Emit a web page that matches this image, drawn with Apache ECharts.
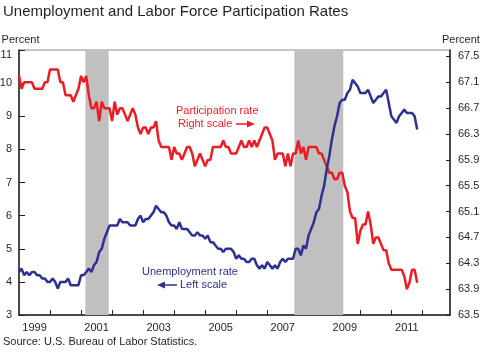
<!DOCTYPE html>
<html><head><meta charset="utf-8">
<script src="https://cdn.jsdelivr.net/npm/echarts@6/dist/echarts.min.js"></script>
<style>html,body{margin:0;padding:0;background:#fff}#c{width:480px;height:362px}</style>
</head><body><div id="c"></div>
<script>
// Monthly data, Jan 1999 - Nov 2011
const startYear = 1999;
const unemployment = [
  4.3,4.4,4.2,4.3,4.2,4.3,4.3,4.2,4.2,4.1,4.1,4.0,
  4.0,4.1,4.0,3.8,4.0,4.0,4.0,4.1,3.9,3.9,3.9,3.9,
  4.2,4.2,4.3,4.4,4.3,4.5,4.6,4.9,5.0,5.3,5.5,5.7,
  5.7,5.7,5.7,5.9,5.8,5.8,5.8,5.7,5.7,5.7,5.9,6.0,
  5.8,5.9,5.9,6.0,6.1,6.3,6.2,6.1,6.1,6.0,5.8,5.7,
  5.7,5.6,5.8,5.6,5.6,5.6,5.5,5.4,5.4,5.5,5.4,5.4,
  5.3,5.4,5.2,5.2,5.1,5.0,5.0,4.9,5.0,5.0,5.0,4.9,
  4.7,4.8,4.7,4.7,4.6,4.6,4.7,4.7,4.5,4.4,4.5,4.4,
  4.6,4.5,4.4,4.5,4.4,4.6,4.7,4.6,4.7,4.7,4.7,5.0,
  5.0,4.8,5.1,5.0,5.4,5.6,5.8,6.1,6.2,6.6,6.9,7.4,
  7.8,8.3,8.7,9.0,9.4,9.5,9.5,9.7,9.8,10.1,10.0,9.9,
  9.7,9.7,9.7,9.8,9.6,9.4,9.5,9.6,9.6,9.7,9.8,9.4,
  9.0,8.9,8.8,9.0,9.1,9.2,9.1,9.1,9.1,9.0,8.6
];
const participation = [
  67.2,67.0,67.1,67.1,67.1,67.1,67.0,67.0,67.0,67.0,67.1,67.1,
  67.3,67.3,67.3,67.3,67.1,67.1,66.9,66.9,66.9,66.8,66.9,67.0,
  67.2,67.1,67.2,66.9,66.7,66.7,66.8,66.5,66.8,66.7,66.7,66.7,
  66.5,66.8,66.6,66.7,66.7,66.6,66.5,66.6,66.7,66.6,66.4,66.3,
  66.4,66.4,66.3,66.4,66.4,66.5,66.2,66.1,66.1,66.1,66.1,65.9,
  66.1,66.0,66.0,65.9,66.0,66.1,66.1,66.0,65.8,65.9,66.0,65.9,
  65.8,65.9,65.9,66.1,66.1,66.1,66.1,66.2,66.1,66.1,66.0,66.0,
  66.0,66.1,66.2,66.1,66.1,66.2,66.1,66.2,66.1,66.2,66.3,66.4,
  66.4,66.3,66.2,65.9,66.0,66.0,66.0,65.8,66.0,65.8,66.0,66.0,
  66.2,66.0,66.1,65.9,66.1,66.1,66.1,66.1,66.0,66.0,65.9,65.8,
  65.7,65.7,65.6,65.6,65.7,65.7,65.5,65.4,65.1,65.0,65.0,64.6,
  64.8,64.9,64.9,65.1,64.9,64.6,64.7,64.7,64.6,64.5,64.5,64.3,
  64.2,64.2,64.2,64.2,64.2,64.1,63.9,64.0,64.2,64.2,64.0
];
const recessions = [[2001.14, 2001.89], [2007.875, 2009.45]];
const leftTicks = [3,4,5,6,7,8,9,10,11];
const rightTicks = [63.5,63.9,64.3,64.7,65.1,65.5,65.9,66.3,66.7,67.1,67.5];
const yearTicks = [2000,2001,2002,2003,2004,2005,2006,2007,2008,2009,2010,2011,2012];
const yearLabels = [1999,2001,2003,2005,2007,2009,2011];

const months = unemployment.map((_, i) => startYear + i / 12);
const FONT = '"Liberation Sans", Arial, sans-serif';
const TXT = '#231F20';
const RED = '#EC1C24';
const BLUE = '#2E3192';

const chart = echarts.init(document.getElementById('c'), null, {renderer: 'canvas'});
chart.setOption({
  animation: false,
  backgroundColor: '#fff',
  textStyle: {fontFamily: FONT},
  title: [
    {text: 'Unemployment and Labor Force Participation Rates', left: 3, top: 4, padding: 0,
     textStyle: {fontSize: 15, fontWeight: 'normal', color: TXT, fontFamily: FONT}},
    {text: 'Percent', left: 442, top: 34, padding: 0,
     textStyle: {fontSize: 11, fontWeight: 'normal', color: TXT, fontFamily: FONT}},
    {text: 'Source: U.S. Bureau of Labor Statistics.', left: 3, top: 336, padding: 0,
     textStyle: {fontSize: 11, fontWeight: 'normal', color: TXT, fontFamily: FONT}}
  ],
  grid: {left: 19, right: 30, top: 50, bottom: 47, show: true, borderColor: '#888', borderWidth: 1,
         containLabel: false, outerBoundsMode: 'none'},
  xAxis: {
    type: 'value', min: 1999, max: 2012.89,
    axisLine: {show: true, lineStyle: {color: TXT, width: 1.5}},
    axisTick: {show: true, inside: true, length: 5, customValues: yearTicks, lineStyle: {color: TXT}},
    axisLabel: {customValues: yearLabels.map(y => y + 0.5), formatter: v => String(Math.floor(v)),
                fontSize: 11, color: TXT, margin: 7, fontFamily: FONT},
    splitLine: {show: false}
  },
  yAxis: [
    {type: 'value', min: 3, max: 11, interval: 1, position: 'left',
     name: 'Percent', nameLocation: 'end', nameGap: 5,
     nameTextStyle: {fontSize: 11, color: TXT, align: 'center', fontFamily: FONT, padding: [0, 0, 0, 3]},
     axisLine: {show: true, lineStyle: {color: TXT, width: 1.5}},
     axisTick: {show: true, inside: true, length: 6, lineStyle: {color: TXT}},
     axisLabel: {fontSize: 11, color: TXT, margin: 7, fontFamily: FONT,
                 formatter: v => v === 11 ? '{top|11}' : String(v),
                 rich: {top: {fontSize: 11, color: TXT, padding: [10, 0, 0, 0], fontFamily: FONT}}},
     splitLine: {show: false}},
    {type: 'value', min: 63.5, max: 67.6, position: 'right',
     axisLine: {show: true, lineStyle: {color: TXT, width: 1.5}},
     axisTick: {show: true, inside: true, length: 4, customValues: rightTicks, lineStyle: {color: TXT}},
     axisLabel: {customValues: rightTicks, formatter: v => v.toFixed(1),
                 fontSize: 11, color: TXT, margin: 8, fontFamily: FONT},
     splitLine: {show: false}}
  ],
  series: [
    {type: 'line', name: 'Participation rate', yAxisIndex: 1, showSymbol: false,
     data: months.map((m, i) => [m, participation[i]]),
     lineStyle: {color: RED, width: 2.5}, itemStyle: {color: RED},
     markArea: {silent: true, itemStyle: {color: '#C0C0C0'},
                data: recessions.map(r => [{xAxis: r[0]}, {xAxis: r[1]}])}},
    {type: 'line', name: 'Unemployment rate', yAxisIndex: 0, showSymbol: false,
     data: months.map((m, i) => [m, unemployment[i]]),
     lineStyle: {color: BLUE, width: 2.5}, itemStyle: {color: BLUE}}
  ],
  graphic: [
    {type: 'text', left: 176, top: 105, style: {text: 'Participation rate', fill: RED, font: '11px ' + FONT}},
    {type: 'text', left: 178, top: 118, style: {text: 'Right scale', fill: RED, font: '11px ' + FONT}},
    {type: 'line', shape: {x1: 236, y1: 124, x2: 249, y2: 124}, style: {stroke: RED, lineWidth: 1.5}},
    {type: 'polygon', shape: {points: [[255, 124], [247, 120.5], [247, 127.5]]}, style: {fill: RED}},
    {type: 'text', left: 142, top: 266, style: {text: 'Unemployment rate', fill: BLUE, font: '11px ' + FONT}},
    {type: 'text', left: 180, top: 279, style: {text: 'Left scale', fill: BLUE, font: '11px ' + FONT}},
    {type: 'line', shape: {x1: 164, y1: 285, x2: 177, y2: 285}, style: {stroke: BLUE, lineWidth: 1.5}},
    {type: 'polygon', shape: {points: [[157, 285], [165, 281.5], [165, 288.5]]}, style: {fill: BLUE}}
  ]
});
</script>
</body></html>
